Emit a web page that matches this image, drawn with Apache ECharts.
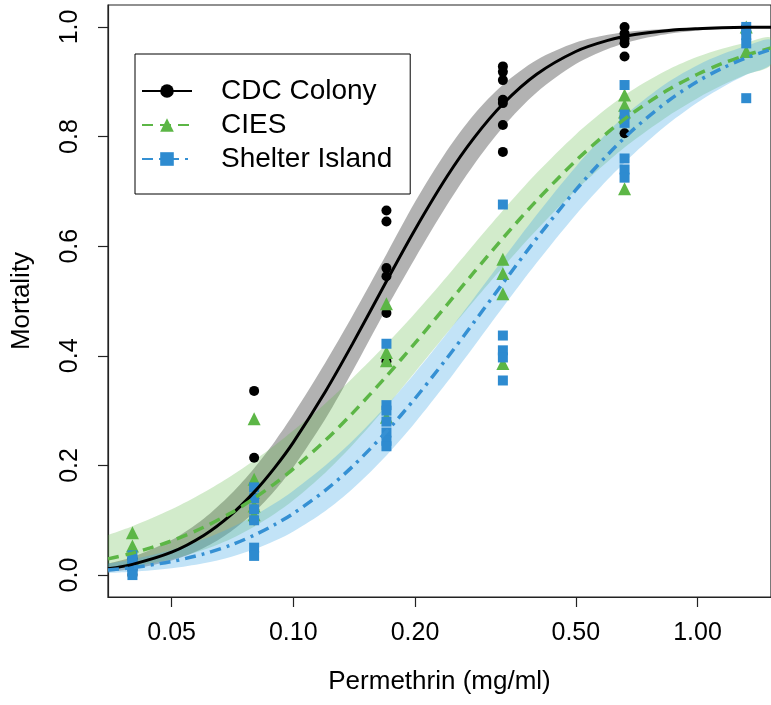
<!DOCTYPE html>
<html>
<head>
<meta charset="utf-8">
<script src="https://cdn.jsdelivr.net/npm/echarts@6/dist/echarts.min.js"></script>
<style>
  html, body { margin: 0; padding: 0; background: #fff; }
  #chart { width: 771px; height: 705px; }
</style>
</head>
<body>
<div id="chart"></div>
<script>
// ---- data ----
const xTicks = [0.05, 0.10, 0.20, 0.50, 1.00];
const yTicks = [0.0, 0.2, 0.4, 0.6, 0.8, 1.0];
const seriesNames = ['CDC Colony', 'CIES', 'Shelter Island'];

const curveDose = [0.0348,0.04,0.05,0.06,0.07,0.08,0.09,0.10,0.12,0.14,0.17,0.20,0.24,0.28,0.33,0.40,0.50,0.60,0.70,0.85,1.00,1.15,1.32,1.52];

const cdcFit  = [0.0116,0.0196,0.0418,0.0723,0.1094,0.1513,0.1961,0.2421,0.3345,0.4213,0.5361,0.6302,0.7271,0.7976,0.8594,0.9137,0.9552,0.9754,0.9861,0.9936,0.9968,0.9984,0.9992,0.9996];
const cdcLow  = [0.0061,0.0111,0.0264,0.0493,0.0790,0.1144,0.1542,0.1967,0.2848,0.3714,0.4865,0.5777,0.6750,0.7491,0.8171,0.8802,0.9322,0.9598,0.9754,0.9875,0.9933,0.9962,0.9979,0.9989];
const cdcHigh = [0.0208,0.0329,0.0638,0.1027,0.1473,0.1951,0.2439,0.2932,0.3873,0.4726,0.5852,0.6804,0.7744,0.8403,0.8945,0.9397,0.9715,0.9856,0.9925,0.9969,0.9986,0.9993,0.9997,0.9999];

const ciesFit  = [0.0296,0.0400,0.0624,0.0872,0.1131,0.1400,0.1670,0.1938,0.2457,0.2950,0.3628,0.4231,0.4931,0.5525,0.6145,0.6833,0.7559,0.8076,0.8457,0.8862,0.9136,0.9332,0.9486,0.9615];
const ciesLow  = [0.0102,0.0156,0.0289,0.0461,0.0659,0.0883,0.1118,0.1363,0.1869,0.2367,0.3069,0.3699,0.4414,0.5004,0.5616,0.6296,0.7019,0.7547,0.7945,0.8386,0.8700,0.8934,0.9132,0.9306];
const ciesHigh = [0.0730,0.0891,0.1201,0.1508,0.1805,0.2092,0.2369,0.2636,0.3132,0.3591,0.4215,0.4778,0.5449,0.6036,0.6651,0.7333,0.8039,0.8529,0.8877,0.9227,0.9454,0.9601,0.9716,0.9801];

const siFit  = [0.0092,0.0136,0.0247,0.0386,0.0545,0.0728,0.0921,0.1124,0.1546,0.1978,0.2617,0.3220,0.3958,0.4614,0.5324,0.6142,0.7026,0.7672,0.8153,0.8661,0.9006,0.9244,0.9436,0.9590];
const siLow  = [0.0037,0.0059,0.0124,0.0216,0.0331,0.0469,0.0625,0.0795,0.1170,0.1569,0.2183,0.2779,0.3517,0.4175,0.4885,0.5696,0.6573,0.7219,0.7706,0.8242,0.8622,0.8897,0.9127,0.9325];
const siHigh = [0.0211,0.0286,0.0457,0.0652,0.0863,0.1084,0.1309,0.1539,0.1999,0.2446,0.3088,0.3688,0.4412,0.5057,0.5759,0.6572,0.7450,0.8081,0.8537,0.9004,0.9303,0.9500,0.9651,0.9762];

const cdcPtDose = [0.04,0.04,0.04,0.04, 0.08,0.08,0.08,0.08,0.08, 0.17,0.17,0.17,0.17,0.17,0.17, 0.33,0.33,0.33,0.33,0.33,0.33,0.33, 0.66,0.66,0.66,0.66,0.66,0.66, 1.32,1.32,1.32];
const cdcPtMort = [0.00,0.01,0.02,0.03, 0.336,0.214,0.14,0.12,0.10, 0.665,0.645,0.56,0.545,0.478,0.39, 0.928,0.918,0.903,0.867,0.861,0.821,0.772, 1.0,0.988,0.979,0.97,0.946,0.806, 1.0,1.0,0.99];

const ciesPtDose = [0.04,0.04,0.04, 0.08,0.08,0.08,0.08, 0.17,0.17,0.17,0.17, 0.33,0.33,0.33,0.33, 0.66,0.66,0.66,0.66, 1.32,1.32];
const ciesPtMort = [0.077,0.053,0.03, 0.285,0.175,0.126,0.11, 0.495,0.406,0.391,0.288, 0.576,0.55,0.513,0.386, 0.876,0.857,0.845,0.705, 1.0,0.955];

const siPtDose = [0.04,0.04,0.04,0.04,0.04, 0.08,0.08,0.08,0.08,0.08,0.08, 0.17,0.17,0.17,0.17,0.17,0.17,0.17, 0.33,0.33,0.33,0.33,0.33, 0.66,0.66,0.66,0.66,0.66,0.66, 1.32,1.32,1.32,1.32];
const siPtMort = [0.036,0.027,0.018,0.009,0.0, 0.16,0.14,0.12,0.10,0.05,0.035, 0.422,0.31,0.30,0.28,0.26,0.245,0.235, 0.676,0.437,0.41,0.397,0.355, 0.894,0.84,0.825,0.76,0.74,0.725, 1.0,0.985,0.97,0.87];

// ---- build ----
const FONT = '"Liberation Sans", Arial, Helvetica, sans-serif';
const zip = (xs, ys) => xs.map((x, i) => [x, ys[i]]);

function group(name, fit, low, high, ptDose, ptMort, sty) {
  const bandRows = curveDose.map((d, i) => [d, low[i], high[i]]);
  return [
    { type: 'custom', name: name + ' band', silent: true, clip: true,
      data: bandRows,
      encode: { x: 0, y: [1, 2] },
      renderItem: function (params, api) {
        if (params.dataIndex !== 0) return null;
        const lowerPts = bandRows.map(r => api.coord([r[0], r[1]]));
        const upperPts = bandRows.map(r => api.coord([r[0], r[2]])).reverse();
        return {
          type: 'group',
          children: [
            { type: 'polyline', shape: { points: lowerPts.concat(upperPts), smooth: 0.3 },
              style: { fill: sty.band, stroke: null, lineWidth: 0 } }
          ]
        };
      }
    },
    { type: 'line', name: name, data: zip(curveDose, fit), smooth: 0.3,
      symbol: sty.symbol, symbolSize: sty.size, showSymbol: false,
      itemStyle: { color: sty.pt },
      lineStyle: { color: sty.line, width: sty.width, type: sty.dash, cap: 'butt' }, silent: true },
    { type: 'scatter', name: name + ' pts', data: zip(ptDose, ptMort),
      symbol: sty.symbol, symbolSize: sty.size, itemStyle: { color: sty.pt, opacity: 1 }, silent: true }
  ];
}

const series = [].concat(
  group('CDC Colony', cdcFit, cdcLow, cdcHigh, cdcPtDose, cdcPtMort,
    { band: 'rgba(0,0,0,0.3)', line: '#000000', pt: '#000000', width: 3, dash: 'solid', symbol: 'circle', size: 10 }),
  group('CIES', ciesFit, ciesLow, ciesHigh, ciesPtDose, ciesPtMort,
    { band: 'rgba(92,182,70,0.28)', line: '#5cb646', pt: '#5cb646', width: 3.5, dash: [11, 7], symbol: 'triangle', size: 13 }),
  group('Shelter Island', siFit, siLow, siHigh, siPtDose, siPtMort,
    { band: 'rgba(70,170,230,0.33)', line: '#3590d3', pt: '#2e8bd0', width: 3.5, dash: [11, 6, 3, 6], symbol: 'rect', size: 10 })
);

const chart = echarts.init(document.getElementById('chart'), null, { renderer: 'canvas' });
chart.setOption({
  animation: false,
  backgroundColor: '#ffffff',
  textStyle: { fontFamily: FONT },
  grid: { left: 108, top: 5, width: 668, height: 592, show: true, borderColor: '#222', borderWidth: 1.2, backgroundColor: 'transparent' },
  legend: {
    data: seriesNames,
    orient: 'vertical', left: 135, top: 54,
    itemWidth: 50, itemHeight: 17, itemGap: 6,
    padding: [23, 18, 21, 6],
    borderColor: '#000', borderWidth: 1, borderRadius: 0, backgroundColor: '#fff',
    selectedMode: false,
    textStyle: { fontSize: 28, fontFamily: FONT, color: '#000', padding: [0, 0, 0, 24] }
  },
  xAxis: {
    type: 'log', logBase: 10, min: 0.0348, max: 1.52,
    name: 'Permethrin (mg/ml)', nameLocation: 'middle', nameGap: 72,
    nameTextStyle: { fontSize: 26, color: '#000', fontFamily: FONT },
    axisLine: { show: true, onZero: false, lineStyle: { color: '#222', width: 1.2 } },
    axisTick: { show: true, inside: false, length: 10, customValues: xTicks, lineStyle: { color: '#222', width: 1.2 } },
    axisLabel: { customValues: xTicks, margin: 24, fontSize: 25, color: '#000', fontFamily: FONT,
      formatter: v => Number(v).toFixed(2) },
    splitLine: { show: false }, minorTick: { show: false }
  },
  yAxis: {
    type: 'value', min: -0.04, max: 1.04,
    name: 'Mortality', nameLocation: 'middle', nameGap: 73, nameRotate: 90,
    nameTextStyle: { fontSize: 26, color: '#000', fontFamily: FONT },
    axisLine: { show: true, onZero: false, lineStyle: { color: '#222', width: 1.2 } },
    axisTick: { show: true, inside: false, length: 10, customValues: yTicks, lineStyle: { color: '#222', width: 1.2 } },
    axisLabel: { customValues: yTicks, rotate: 90, margin: 25, fontSize: 25, color: '#000', fontFamily: FONT,
      formatter: v => Number(v).toFixed(1) },
    splitLine: { show: false }
  },
  series: series
});
</script>
</body>
</html>
